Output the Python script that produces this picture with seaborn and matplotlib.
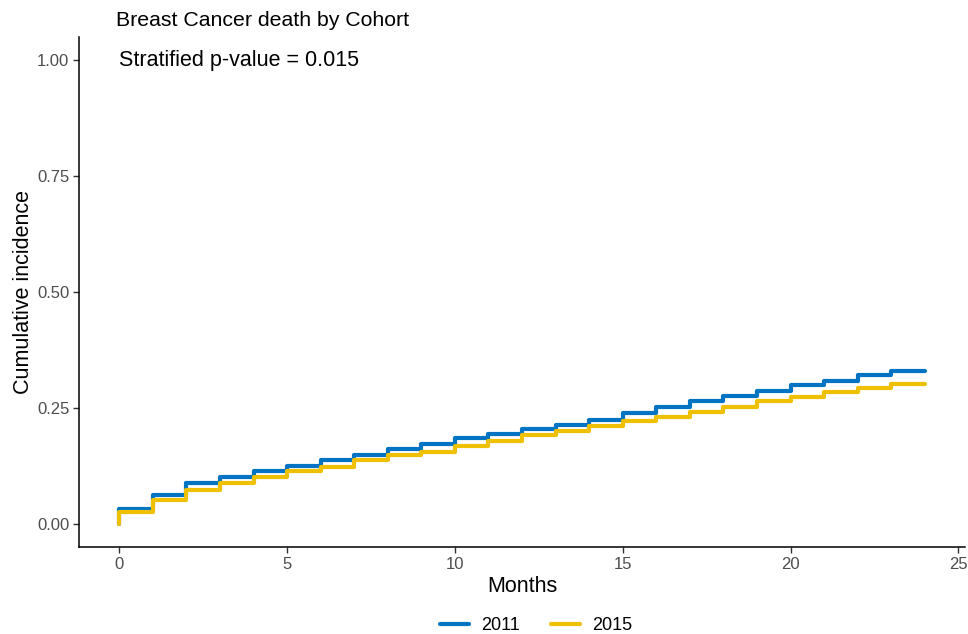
import matplotlib
matplotlib.use('Agg')
import matplotlib.pyplot as plt
import pandas as pd
import seaborn as sns

# Cumulative incidence, one value per month (0..23), held to month 24
months = list(range(0, 25))
cif_2011 = [0.033, 0.062, 0.088, 0.101, 0.113, 0.125, 0.138, 0.148, 0.161, 0.172,
            0.185, 0.193, 0.204, 0.213, 0.224, 0.238, 0.253, 0.266, 0.276, 0.287,
            0.300, 0.309, 0.320, 0.330]
cif_2015 = [0.026, 0.052, 0.073, 0.088, 0.100, 0.113, 0.123, 0.137, 0.149, 0.155,
            0.167, 0.179, 0.192, 0.201, 0.212, 0.222, 0.231, 0.242, 0.253, 0.264,
            0.274, 0.285, 0.292, 0.302]
cohorts = ['2011', '2015']
colors = ['#0073C2', '#EFC000']


def step_frame(vals, label):
    # start at 0, jump at month 0, hold last value to month 24
    t = [0] + months[:-1] + [months[-1]]
    y = [0.0] + vals + [vals[-1]]
    return pd.DataFrame({'Months': t, 'cif': y, 'Cohort': label})


df = pd.concat([step_frame(cif_2011, cohorts[0]), step_frame(cif_2015, cohorts[1])])

sns.set_style('white')
plt.rcParams['font.family'] = ['Liberation Sans', 'DejaVu Sans']
plt.rcParams['text.color'] = 'black'
plt.rcParams['axes.labelcolor'] = 'black'

fig = plt.figure(figsize=(9.68, 6.34), dpi=100)
ax = fig.add_axes([0.0816, 0.1372, 0.9154, 0.8044])

sns.lineplot(data=df, x='Months', y='cif', hue='Cohort', palette=colors,
             estimator=None, sort=False, drawstyle='steps-post', linewidth=3,
             ax=ax, legend=True)

ax.set_xlim(-1.2, 25.2)
ax.set_ylim(-0.05, 1.05)
ax.set_xticks([0, 5, 10, 15, 20, 25])
ax.set_yticks([0, 0.25, 0.5, 0.75, 1.0])
ax.set_yticklabels(['0.00', '0.25', '0.50', '0.75', '1.00'])
ax.tick_params(axis='both', colors='#333333', labelsize=12, length=4, width=1,
               direction='out', bottom=True, left=True, pad=3)
for lab in ax.get_xticklabels() + ax.get_yticklabels():
    lab.set_color('#4D4D4D')
for s in ['top', 'right']:
    ax.spines[s].set_visible(False)
for s in ['left', 'bottom']:
    ax.spines[s].set_color('black')
    ax.spines[s].set_linewidth(1.1)

ax.set_xlabel('Months', fontsize=15.5, labelpad=3)
ax.set_ylabel('Cumulative incidence', fontsize=15.5, labelpad=2)
ax.text(0, 1.0, 'Stratified p-value = 0.015', fontsize=15.5, ha='left', va='center')
fig.text(116 / 968, 1 - 20 / 634, 'Breast Cancer death by Cohort', fontsize=15.3,
         ha='left', va='center')

handles, labels = ax.get_legend_handles_labels()
ax.legend(handles, labels, loc='center', bbox_to_anchor=(0.554, 1 - 626 / 634),
          bbox_transform=fig.transFigure, ncol=2, frameon=False, fontsize=13,
          handlelength=1.6, handletextpad=0.7, columnspacing=1.7, title=None)

fig.savefig('out.png', dpi=100)
